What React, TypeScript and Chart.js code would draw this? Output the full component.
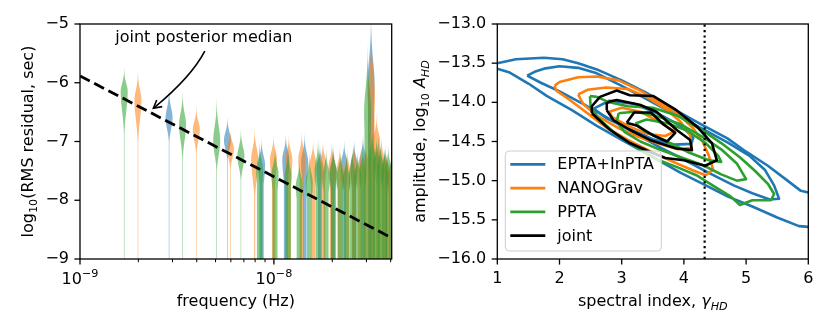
import React, { useEffect, useRef } from 'react';
import { Chart, registerables } from 'chart.js';

Chart.register(...registerables);

const FONT = "'DejaVu Sans', 'Liberation Sans', sans-serif";
Chart.defaults.font.family = FONT;

const BLUE = '#1f77b4';
const ORANGE = '#ff7f0e';
const GREEN = '#2ca02c';

// ---------------- Left panel data: per-frequency posteriors of log10 RMS residual ----------------
// PPTA
const pptaFreq = [1.69e-9, 3.38e-9, 5.07e-9, 6.76e-9, 8.45e-9, 10.14e-9, 11.83e-9, 13.52e-9, 15.21e-9, 16.9e-9, 18.59e-9, 20.28e-9, 21.97e-9, 23.66e-9, 25.35e-9, 27.04e-9, 28.73e-9, 30.42e-9, 32.11e-9, 33.8e-9, 35.49e-9, 37.18e-9, 38.87e-9];
const pptaTop = [-5.81, -6.24, -6.38, -6.86, -7.1, -7.2, -7.2, -7.4, -7.3, -7.05, -7.2, -7.15, -7.25, -7.3, -7.2, -7.25, -7.15, -5.56, -6.9, -7.0, -7.1, -7.2, -7.15];
const pptaMode = [-6.15, -6.72, -7.0, -7.25, -7.5, -7.55, -7.6, -7.75, -7.7, -7.5, -7.6, -7.55, -7.6, -7.65, -7.6, -7.6, -7.55, -6.5, -7.3, -7.4, -7.45, -7.55, -7.5];
const pptaLow = [-6.95, -7.35, -7.55, -7.7, -8.3, -8.4, -8.4, -8.5, -8.5, -8.4, -8.4, -8.4, -8.4, -8.4, -8.4, -8.4, -8.4, -8.0, -8.2, -8.3, -8.3, -8.4, -8.4];
const pptaTail = [0.08, 0.08, 0.08, 0.08, 0.8, 0.7, 0.8, 0.75, 0.65, 0.75, 0.7, 0.75, 0.75, 0.75, 0.8, 0.75, 0.8, 0.9, 0.8, 0.8, 0.75, 0.75, 0.75];

// NANOGrav
const ngFreq = [1.99e-9, 3.98e-9, 5.97e-9, 7.96e-9, 9.95e-9, 11.94e-9, 13.93e-9, 15.92e-9, 17.91e-9, 19.9e-9, 21.89e-9, 23.88e-9, 25.87e-9, 27.86e-9, 29.85e-9, 31.84e-9, 33.83e-9, 35.82e-9, 37.81e-9, 39.8e-9];
const ngTop = [-5.87, -6.46, -6.86, -6.86, -6.97, -6.97, -6.92, -7.06, -7.06, -7.09, -7.17, -7.2, -7.1, -7.2, -7.1, -5.27, -6.63, -7.0, -7.2, -7.35];
const ngMode = [-6.3, -6.8, -7.12, -7.3, -7.3, -7.3, -7.3, -7.4, -7.4, -7.45, -7.5, -7.55, -7.45, -7.55, -7.45, -6.2, -7.0, -7.35, -7.5, -7.65];
const ngLow = [-7.1, -7.25, -7.5, -8.1, -8.1, -8.2, -8.2, -8.2, -8.2, -8.3, -8.3, -8.3, -8.3, -8.3, -8.3, -7.8, -8.0, -8.2, -8.3, -8.4];
const ngTail = [0.08, 0.08, 0.08, 0.15, 0.45, 0.55, 0.6, 0.55, 0.6, 0.6, 0.6, 0.6, 0.6, 0.6, 0.65, 0.9, 0.75, 0.65, 0.65, 0.65];

// EPTA+InPTA
const eptaFreq = [2.88e-9, 5.76e-9, 8.64e-9, 11.52e-9, 14.4e-9, 17.28e-9, 20.16e-9, 23.04e-9, 25.92e-9, 28.8e-9, 31.68e-9, 34.56e-9, 37.44e-9, 40.32e-9];
const eptaTop = [-6.18, -6.65, -7.03, -6.95, -6.95, -7.12, -7.17, -7.06, -7.06, -6.97, -5.05, -6.97, -7.14, -7.3];
const eptaMode = [-6.6, -6.98, -7.4, -7.3, -7.35, -7.45, -7.5, -7.4, -7.4, -7.35, -6.0, -7.35, -7.45, -7.6];
const eptaLow = [-7.05, -7.35, -8.2, -8.2, -8.2, -8.3, -8.3, -8.3, -8.3, -8.3, -7.8, -8.3, -8.3, -8.4];
const eptaTail = [0.08, 0.08, 0.6, 0.55, 0.55, 0.55, 0.55, 0.55, 0.55, 0.55, 0.85, 0.6, 0.6, 0.6];

// joint posterior median line
const medianFreq = [1e-9, 4.05e-8];
const medianLogRms = [-5.885, -8.64];

const freqMin = 1e-9;
const freqMax = 4.05e-8;
const rmsMin = -9;
const rmsMax = -5;

const annotText = 'joint posterior median';
const annotTextAt = [4.35e-9, -5.30];
const arrowFrom = [4.4e-9, -5.46];
const arrowVia = [3.76e-9, -5.897];
const arrowTo = [2.39e-9, -6.435];

// ---------------- Right panel data: contours in (gamma, log10 A) ----------------
const eptaOuter = [[0.8, -13.5], [1.0, -13.5], [1.3, -13.45], [1.75, -13.43], [2.05, -13.45], [2.3, -13.5], [2.6, -13.58], [3.0, -13.72], [3.4, -13.88], [3.8, -14.07], [4.3, -14.29], [4.7, -14.46], [5.0, -14.63], [5.35, -14.81], [5.65, -14.99], [5.88, -15.13], [6.0, -15.15], [6.2, -15.15], [6.2, -15.6], [6.0, -15.59], [5.85, -15.58], [5.5, -15.47], [5.1, -15.33], [4.7, -15.2], [4.4, -15.08], [3.95, -14.9], [3.5, -14.7], [3.0, -14.48], [2.6, -14.3], [2.2, -14.1], [1.8, -13.92], [1.5, -13.76], [1.2, -13.62], [1.0, -13.57], [0.8, -13.57], [0.8, -13.5]];
const eptaMid = [[1.48, -13.66], [1.6, -13.61], [1.75, -13.57], [2.0, -13.54], [2.3, -13.56], [2.6, -13.63], [3.0, -13.79], [3.4, -13.96], [3.8, -14.13], [4.3, -14.34], [4.7, -14.51], [5.05, -14.68], [5.3, -14.86], [5.45, -15.06], [5.53, -15.23], [5.38, -15.24], [5.1, -15.16], [4.8, -15.06], [4.4, -14.9], [4.0, -14.73], [3.6, -14.57], [3.2, -14.39], [2.8, -14.21], [2.4, -14.03], [2.0, -13.86], [1.7, -13.75], [1.48, -13.66]];
const eptaInner = [[2.55, -14.08], [2.8, -13.98], [3.2, -14.02], [3.6, -14.15], [3.95, -14.3], [4.15, -14.45], [4.12, -14.53], [3.85, -14.54], [3.5, -14.47], [3.1, -14.33], [2.75, -14.2], [2.55, -14.08]];

const ngOuter = [[1.92, -13.79], [2.0, -13.74], [2.3, -13.68], [2.6, -13.67], [2.95, -13.72], [3.3, -13.85], [3.65, -14.02], [3.95, -14.18], [4.15, -14.33], [4.3, -14.5], [4.4, -14.68], [4.47, -14.86], [4.35, -14.93], [4.15, -14.87], [3.8, -14.75], [3.45, -14.62], [3.1, -14.48], [2.75, -14.32], [2.45, -14.14], [2.15, -13.96], [1.95, -13.85], [1.92, -13.79]];
const ngMid = [[2.3, -13.9], [2.45, -13.84], [2.75, -13.81], [3.1, -13.83], [3.4, -13.93], [3.7, -14.08], [3.95, -14.25], [4.1, -14.42], [4.12, -14.58], [3.9, -14.6], [3.6, -14.53], [3.3, -14.45], [2.95, -14.33], [2.6, -14.17], [2.38, -14.02], [2.3, -13.9]];
const ngInner = [[2.8, -14.12], [3.0, -14.07], [3.3, -14.12], [3.6, -14.25], [3.85, -14.37], [3.7, -14.43], [3.4, -14.4], [3.1, -14.3], [2.85, -14.19], [2.8, -14.12]];

const pptaOuterC = [[2.49, -13.92], [2.6, -13.93], [2.8, -14.0], [3.1, -14.05], [3.5, -14.07], [3.9, -14.17], [4.3, -14.36], [4.6, -14.52], [4.9, -14.7], [5.15, -14.88], [5.35, -15.04], [5.45, -15.17], [5.4, -15.25], [5.1, -15.25], [4.9, -15.31], [4.75, -15.2], [4.5, -15.08], [4.2, -14.93], [3.9, -14.83], [3.6, -14.74], [3.25, -14.58], [2.9, -14.4], [2.62, -14.2], [2.5, -14.05], [2.49, -13.92]];
const pptaMidC = [[2.95, -14.14], [3.2, -14.12], [3.5, -14.16], [3.95, -14.28], [4.3, -14.44], [4.6, -14.6], [4.85, -14.78], [5.0, -14.98], [4.85, -15.0], [4.6, -14.92], [4.3, -14.8], [3.95, -14.7], [3.6, -14.6], [3.3, -14.5], [3.05, -14.38], [2.92, -14.25], [2.95, -14.14]];
const pptaInnerC = [[3.22, -14.27], [3.4, -14.22], [3.75, -14.27], [4.05, -14.36], [4.35, -14.52], [4.55, -14.68], [4.6, -14.76], [4.4, -14.74], [4.05, -14.63], [3.7, -14.49], [3.4, -14.38], [3.22, -14.27]];

const jointOuter = [[2.52, -14.14], [2.52, -14.05], [2.65, -13.93], [2.92, -13.85], [3.13, -13.91], [3.51, -13.92], [3.88, -14.1], [4.21, -14.31], [4.45, -14.52], [4.53, -14.74], [4.34, -14.81], [4.0, -14.74], [3.7, -14.71], [3.45, -14.63], [3.13, -14.52], [2.81, -14.35], [2.52, -14.14]];
const jointMid = [[2.76, -14.1], [2.76, -14.01], [2.81, -13.99], [2.92, -13.97], [3.29, -14.03], [3.56, -14.12], [3.88, -14.35], [4.1, -14.48], [4.13, -14.61], [3.88, -14.59], [3.45, -14.48], [3.13, -14.35], [2.87, -14.23], [2.76, -14.1]];
const jointInner = [[3.08, -14.26], [3.2, -14.13], [3.47, -14.13], [3.67, -14.28], [3.86, -14.39], [3.73, -14.5], [3.5, -14.42], [3.25, -14.3], [3.08, -14.26]];

const gammaGW = 13 / 3;
const gammaMin = 1;
const gammaMax = 6;
const ampMin = -16;
const ampMax = -13;
const legendLabels = ['EPTA+InPTA', 'NANOGrav', 'PPTA', 'joint'];
const legendColors = [BLUE, ORANGE, GREEN, '#000000'];

// ---------------- helpers ----------------
const VIOLIN_HALF = 3.5;
const MAJOR_LEN = 5.6;
const MINOR_LEN = 3.2;

const minus = (s: string) => s.replace('-', '\u2212');

function isDecade(v: number) {
  const l = Math.log10(v);
  return Math.abs(l - Math.round(l)) < 1e-6;
}
function isIntMantissa(v: number) {
  const e = Math.floor(Math.log10(v) + 1e-9);
  const m = v / Math.pow(10, e);
  return Math.abs(m - Math.round(m)) < 1e-6;
}

type Run = { t: string; it?: boolean; sub?: boolean; sup?: boolean };
function drawRuns(ctx: CanvasRenderingContext2D, runs: Run[], x: number, y: number, rotate: boolean) {
  ctx.save();
  ctx.translate(x, y);
  if (rotate) ctx.rotate(-Math.PI / 2);
  const fontFor = (r: Run) => `${r.it ? 'italic ' : ''}${r.sub || r.sup ? 11.2 : 16}px ${FONT}`;
  const widths = runs.map((r) => {
    ctx.font = fontFor(r);
    return ctx.measureText(r.t).width;
  });
  const total = widths.reduce((a, b) => a + b, 0);
  let cx = -total / 2;
  ctx.fillStyle = '#000';
  ctx.textAlign = 'left';
  ctx.textBaseline = 'alphabetic';
  runs.forEach((r, i) => {
    ctx.font = fontFor(r);
    ctx.fillText(r.t, cx, r.sub ? 3.6 : r.sup ? -6.8 : 0);
    cx += widths[i];
  });
  ctx.restore();
}

function drawFrameAndTicks(chart: any, logX: boolean) {
  const { ctx, chartArea: a, scales } = chart;
  const xs = scales.x;
  const ys = scales.y;
  ctx.save();
  ctx.strokeStyle = '#000';
  for (const t of xs.ticks) {
    const v = t.value;
    let len = MAJOR_LEN;
    let w = 1.3;
    if (logX) {
      if (!isDecade(v)) {
        if (!isIntMantissa(v)) continue;
        len = MINOR_LEN;
        w = 1.0;
      } else {
        const e = Math.round(Math.log10(v));
        drawRuns(ctx, [{ t: '10' }, { t: minus(String(e)), sup: true }], xs.getPixelForValue(v), a.bottom + 24.5, false);
      }
    }
    const px = xs.getPixelForValue(v);
    ctx.lineWidth = w;
    ctx.beginPath();
    ctx.moveTo(px, a.bottom);
    ctx.lineTo(px, a.bottom + len);
    ctx.stroke();
  }
  for (const t of ys.ticks) {
    const py = ys.getPixelForValue(t.value);
    ctx.lineWidth = 1.3;
    ctx.beginPath();
    ctx.moveTo(a.left, py);
    ctx.lineTo(a.left - MAJOR_LEN, py);
    ctx.stroke();
  }
  ctx.lineWidth = 1.3;
  ctx.strokeRect(a.left, a.top, a.right - a.left, a.bottom - a.top);
  ctx.restore();
}

function drawViolin(ctx: CanvasRenderingContext2D, xs: any, ys: any, f: number, top: number, mode: number, low: number, tail: number) {
  const sUp = (top - mode) / 2.5;
  const sDn = (mode - low) / 2.5;
  const cx = xs.getPixelForValue(f);
  const v0 = mode + 3 * sUp;
  const v1 = ys.min - 0.2;
  const n = 300;
  const pts: [number, number][] = [];
  for (let i = 0; i <= n; i++) {
    const v = v0 + ((v1 - v0) * i) / n;
    const d = v >= mode
      ? Math.exp(-0.5 * Math.pow((v - mode) / sUp, 2))
      : Math.max(Math.exp(-0.5 * Math.pow((mode - v) / sDn, 2)), tail);
    pts.push([ys.getPixelForValue(v), VIOLIN_HALF * d]);
  }
  ctx.beginPath();
  pts.forEach(([py, hw], i) => (i ? ctx.lineTo(cx - hw, py) : ctx.moveTo(cx - hw, py)));
  for (let i = pts.length - 1; i >= 0; i--) ctx.lineTo(cx + pts[i][1], pts[i][0]);
  ctx.closePath();
  ctx.fill();
}

const violinGroups = [
  { freq: eptaFreq, top: eptaTop, mode: eptaMode, low: eptaLow, tail: eptaTail, fill: 'rgba(31,119,180,0.55)' },
  { freq: ngFreq, top: ngTop, mode: ngMode, low: ngLow, tail: ngTail, fill: 'rgba(255,127,14,0.55)' },
  { freq: pptaFreq, top: pptaTop, mode: pptaMode, low: pptaLow, tail: pptaTail, fill: 'rgba(44,160,44,0.55)' },
];

const leftPlugin = {
  id: 'leftDecor',
  beforeDatasetsDraw(chart: any) {
    const { ctx, chartArea: a, scales } = chart;
    ctx.save();
    ctx.beginPath();
    ctx.rect(a.left, a.top, a.right - a.left, a.bottom - a.top);
    ctx.clip();
    for (const g of violinGroups) {
      ctx.fillStyle = g.fill;
      for (let i = 0; i < g.freq.length; i++) {
        drawViolin(ctx, scales.x, scales.y, g.freq[i], g.top[i], g.mode[i], g.low[i], g.tail[i]);
      }
    }
    ctx.restore();
  },
  afterDraw(chart: any) {
    const { ctx, chartArea: a, scales } = chart;
    const xs = scales.x;
    const ys = scales.y;
    drawFrameAndTicks(chart, true);
    // annotation
    ctx.save();
    ctx.fillStyle = '#000';
    ctx.font = `16px ${FONT}`;
    ctx.textAlign = 'center';
    ctx.textBaseline = 'alphabetic';
    ctx.fillText(annotText, xs.getPixelForValue(annotTextAt[0]), ys.getPixelForValue(annotTextAt[1]));
    const p0 = [xs.getPixelForValue(arrowFrom[0]), ys.getPixelForValue(arrowFrom[1])];
    const pc = [xs.getPixelForValue(arrowVia[0]), ys.getPixelForValue(arrowVia[1])];
    const p1 = [xs.getPixelForValue(arrowTo[0]), ys.getPixelForValue(arrowTo[1])];
    ctx.strokeStyle = '#000';
    ctx.lineWidth = 1.6;
    ctx.beginPath();
    ctx.moveTo(p0[0], p0[1]);
    ctx.quadraticCurveTo(pc[0], pc[1], p1[0], p1[1]);
    ctx.stroke();
    const ang = Math.atan2(p1[1] - pc[1], p1[0] - pc[0]);
    const hl = 9;
    const spread = 0.5;
    ctx.beginPath();
    ctx.moveTo(p1[0] - hl * Math.cos(ang - spread), p1[1] - hl * Math.sin(ang - spread));
    ctx.lineTo(p1[0], p1[1]);
    ctx.lineTo(p1[0] - hl * Math.cos(ang + spread), p1[1] - hl * Math.sin(ang + spread));
    ctx.stroke();
    ctx.restore();
    // axis titles
    drawRuns(ctx, [{ t: 'frequency (Hz)' }], (a.left + a.right) / 2, 306, false);
    drawRuns(ctx, [{ t: 'log' }, { t: '10', sub: true }, { t: '(RMS residual, sec)' }], 33.3, (a.top + a.bottom) / 2, true);
  },
};

const rightPlugin = {
  id: 'rightDecor',
  afterDraw(chart: any) {
    const { ctx, chartArea: a } = chart;
    drawFrameAndTicks(chart, false);
    drawRuns(ctx, [{ t: 'spectral index, ' }, { t: '\u03B3', it: true }, { t: 'HD', it: true, sub: true }], (a.left + a.right) / 2, 306, false);
    drawRuns(ctx, [{ t: 'amplitude, log' }, { t: '10', sub: true }, { t: ' ' }, { t: 'A', it: true }, { t: 'HD', it: true, sub: true }], 20, (a.top + a.bottom) / 2, true);
    // legend
    const lx = a.left + 8;
    const lw = 156;
    const lh = 100;
    const ly = a.bottom - 8 - lh;
    ctx.save();
    ctx.beginPath();
    if ((ctx as any).roundRect) (ctx as any).roundRect(lx, ly, lw, lh, 4);
    else ctx.rect(lx, ly, lw, lh);
    ctx.fillStyle = 'rgba(255,255,255,0.8)';
    ctx.fill();
    ctx.strokeStyle = '#cccccc';
    ctx.lineWidth = 1;
    ctx.stroke();
    ctx.font = `16px ${FONT}`;
    ctx.textAlign = 'left';
    ctx.textBaseline = 'middle';
    legendLabels.forEach((lab, i) => {
      const ry = ly + 13.3 + i * 23.8;
      ctx.strokeStyle = legendColors[i];
      ctx.lineWidth = 2.8;
      ctx.beginPath();
      ctx.moveTo(lx + 5, ry);
      ctx.lineTo(lx + 40, ry);
      ctx.stroke();
      ctx.fillStyle = '#000';
      ctx.fillText(lab, lx + 52, ry + 1);
    });
    ctx.restore();
  },
};

const toXY = (pts: number[][]) => pts.map((p) => ({ x: p[0], y: p[1] }));

function contourSet(pts: number[][], color: string, order: number) {
  return {
    data: toXY(pts),
    borderColor: color,
    borderWidth: 2.6,
    showLine: true,
    pointRadius: 0,
    fill: false,
    tension: 0,
    borderJoinStyle: 'round',
    order,
  };
}

const tickFont = { family: FONT, size: 16 };

function leftConfig(): any {
  return {
    type: 'scatter',
    data: {
      datasets: [
        {
          data: medianFreq.map((f, i) => ({ x: f, y: medianLogRms[i] })),
          borderColor: '#000',
          borderWidth: 2.8,
          borderDash: [11, 5],
          borderCapStyle: 'butt',
          showLine: true,
          pointRadius: 0,
          fill: false,
        },
      ],
    },
    options: {
      responsive: false,
      animation: false,
      events: [],
      layout: { padding: { left: 0, top: 24, right: 13.3, bottom: 0 }, autoPadding: false },
      plugins: { legend: { display: false }, tooltip: { enabled: false } },
      scales: {
        x: {
          type: 'logarithmic',
          min: freqMin,
          max: freqMax,
          grid: { display: false, drawTicks: false, tickLength: 0 },
          border: { display: false },
          ticks: {
            autoSkip: false,
            maxRotation: 0,
            minRotation: 0,
            padding: 10,
            color: '#000',
            font: tickFont,
            callback: () => '',
          },
          afterFit: (s: any) => { s.height = 74; },
        },
        y: {
          type: 'linear',
          min: rmsMin,
          max: rmsMax,
          grid: { display: false, drawTicks: false, tickLength: 0 },
          border: { display: false },
          ticks: { stepSize: 1, padding: 11, color: '#000', font: tickFont, callback: (v: number) => minus(String(v)) },
          afterFit: (s: any) => { s.width = 80; },
        },
      },
    },
    plugins: [leftPlugin],
  };
}

function rightConfig(): any {
  return {
    type: 'scatter',
    data: {
      datasets: [
        {
          data: [{ x: gammaGW, y: ampMin }, { x: gammaGW, y: ampMax }],
          borderColor: '#000',
          borderWidth: 2.2,
          borderDash: [2.2, 3.2],
          borderCapStyle: 'butt',
          showLine: true,
          pointRadius: 0,
          fill: false,
          order: 0,
        },
        contourSet(jointOuter, '#000', 1),
        contourSet(jointMid, '#000', 1),
        contourSet(jointInner, '#000', 1),
        contourSet(pptaOuterC, GREEN, 2),
        contourSet(pptaMidC, GREEN, 2),
        contourSet(pptaInnerC, GREEN, 2),
        contourSet(ngOuter, ORANGE, 3),
        contourSet(ngMid, ORANGE, 3),
        contourSet(ngInner, ORANGE, 3),
        contourSet(eptaOuter, BLUE, 4),
        contourSet(eptaMid, BLUE, 4),
        contourSet(eptaInner, BLUE, 4),
      ],
    },
    options: {
      responsive: false,
      animation: false,
      events: [],
      layout: { padding: { left: 0, top: 24, right: 22.7, bottom: 0 }, autoPadding: false },
      plugins: { legend: { display: false }, tooltip: { enabled: false } },
      scales: {
        x: {
          type: 'linear',
          min: gammaMin,
          max: gammaMax,
          grid: { display: false, drawTicks: false, tickLength: 0 },
          border: { display: false },
          ticks: { stepSize: 1, padding: 10, maxRotation: 0, color: '#000', font: tickFont, callback: (v: number) => String(v) },
          afterFit: (s: any) => { s.height = 74; },
        },
        y: {
          type: 'linear',
          min: ampMin,
          max: ampMax,
          grid: { display: false, drawTicks: false, tickLength: 0 },
          border: { display: false },
          ticks: { stepSize: 0.5, padding: 11, color: '#000', font: tickFont, callback: (v: number) => minus(Number(v).toFixed(1)) },
          afterFit: (s: any) => { s.width = 92.3; },
        },
      },
    },
    plugins: [rightPlugin],
  };
}

function ChartCanvas({ config, left, width, height }: { config: () => any; left: number; width: number; height: number }) {
  const ref = useRef<HTMLCanvasElement>(null);
  useEffect(() => {
    const chart = new Chart(ref.current as HTMLCanvasElement, config());
    return () => chart.destroy();
  }, []);
  return <canvas ref={ref} width={width} height={height} style={{ position: 'absolute', left, top: 0, width, height, display: 'block' }} />;
}

export default function App() {
  return (
    <div style={{ position: 'absolute', left: 0, top: 0, width: 831, height: 333, background: '#ffffff', overflow: 'hidden' }}>
      <ChartCanvas config={leftConfig} left={0} width={405} height={333} />
      <ChartCanvas config={rightConfig} left={405} width={426} height={333} />
    </div>
  );
}
